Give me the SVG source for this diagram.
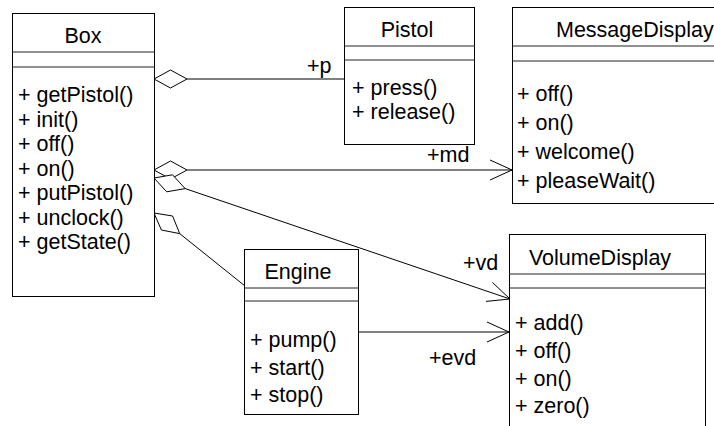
<svg xmlns="http://www.w3.org/2000/svg" width="714" height="426" viewBox="0 0 714 426">
<style>
text{font-family:"Liberation Sans",Arial,sans-serif;font-size:21.5px;fill:#000}
.t{text-anchor:middle}
.box{fill:#fff;stroke:#000;stroke-width:1}
.div{stroke:#222;stroke-width:1}
.ln{fill:none;stroke:#000;stroke-width:1}
.dia{fill:#fff;stroke:#000;stroke-width:1}
</style>
<rect width="714" height="426" fill="#fff"/>
<g id="connectors">
  <line class="ln" x1="187" y1="79" x2="344" y2="79"/>
  <polygon class="dia" points="154,79 170.5,70 187,79 170.5,88"/>
  <text x="307" y="73">+p</text>
  <line class="ln" x1="187" y1="170" x2="512" y2="170"/>
  <polygon class="dia" points="154,170 170.5,161 187,170 170.5,179"/>
  <polyline class="ln" points="490,160 512,170 490,180"/>
  <text x="427" y="162">+md</text>
  <line class="ln" x1="185.2" y1="188.6" x2="510" y2="299"/>
  <polygon class="dia" points="154,178 172.5,174.8 185.2,188.6 166.7,191.8"/>
  <polyline class="ln" points="492.4,282.4 510,299 486,301.4"/>
  <text x="463" y="270">+vd</text>
  <line class="ln" x1="179.7" y1="233.6" x2="245" y2="286"/>
  <polygon class="dia" points="154,213 172.6,216 179.7,233.6 161.4,230"/>
  <line class="ln" x1="358" y1="332" x2="509" y2="332"/>
  <polyline class="ln" points="487,322 509,332 487,342"/>
  <text x="429" y="365">+evd</text>
</g>
<g id="Box">
  <rect class="box" x="12.5" y="13.5" width="142" height="283"/>
  <line class="div" x1="12" y1="52" x2="155" y2="52"/>
  <line class="div" x1="12" y1="67" x2="155" y2="67"/>
  <text class="t" x="83" y="43">Box</text>
  <text x="18" y="102">+ getPistol()</text>
  <text x="18" y="126.5">+ init()</text>
  <text x="18" y="151">+ off()</text>
  <text x="18" y="175.5">+ on()</text>
  <text x="18" y="200">+ putPistol()</text>
  <text x="18" y="224.5">+ unclock()</text>
  <text x="18" y="249">+ getState()</text>
</g>
<g id="Pistol">
  <rect class="box" x="344.5" y="7.5" width="130" height="137"/>
  <line class="div" x1="344" y1="46" x2="475" y2="46"/>
  <line class="div" x1="344" y1="60" x2="475" y2="60"/>
  <text class="t" x="407" y="37">Pistol</text>
  <text x="352" y="95">+ press()</text>
  <text x="352" y="119">+ release()</text>
</g>
<g id="MessageDisplay">
  <rect class="box" x="512.5" y="7.5" width="260" height="196"/>
  <line class="div" x1="512" y1="46" x2="714" y2="46"/>
  <line class="div" x1="512" y1="61" x2="714" y2="61"/>
  <text x="556" y="37">MessageDisplay</text>
  <text x="517" y="101">+ off()</text>
  <text x="517" y="130">+ on()</text>
  <text x="517" y="159">+ welcome()</text>
  <text x="517" y="188">+ pleaseWait()</text>
</g>
<g id="Engine">
  <rect class="box" x="244.5" y="249.5" width="114" height="165"/>
  <line class="div" x1="244" y1="288" x2="359" y2="288"/>
  <line class="div" x1="244" y1="301" x2="359" y2="301"/>
  <text class="t" x="298" y="279">Engine</text>
  <text x="250" y="347">+ pump()</text>
  <text x="250" y="374.5">+ start()</text>
  <text x="250" y="402">+ stop()</text>
</g>
<g id="VolumeDisplay">
  <rect class="box" x="509.5" y="234.5" width="196" height="220"/>
  <line class="div" x1="509" y1="274" x2="706" y2="274"/>
  <line class="div" x1="509" y1="288" x2="706" y2="288"/>
  <text class="t" x="600" y="265">VolumeDisplay</text>
  <text x="515" y="330">+ add()</text>
  <text x="515" y="358">+ off()</text>
  <text x="515" y="385.5">+ on()</text>
  <text x="515" y="413">+ zero()</text>
</g>
</svg>
